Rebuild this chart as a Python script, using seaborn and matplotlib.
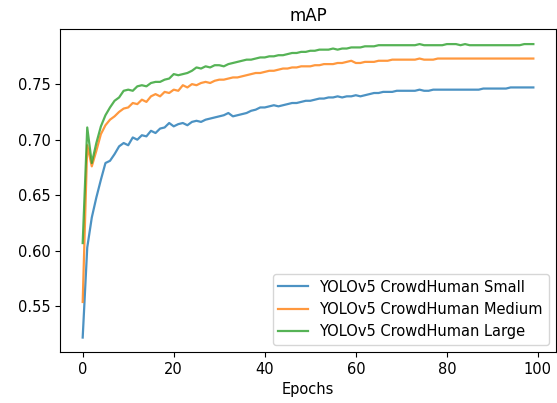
import pandas as pd
import matplotlib
matplotlib.use("Agg")
import matplotlib.pyplot as plt
import seaborn as sns
import numpy as np

# --- Data ---
epochs = list(range(100))

map_small = [
    0.522, 0.603, 0.630, 0.648, 0.664, 0.679, 0.681, 0.687, 0.694, 0.697,
    0.695, 0.702, 0.700, 0.704, 0.703, 0.708, 0.706, 0.710, 0.711, 0.715,
    0.712, 0.714, 0.715, 0.713, 0.716, 0.717, 0.716, 0.718, 0.719, 0.720,
    0.721, 0.722, 0.724, 0.721, 0.722, 0.723, 0.724, 0.726, 0.727, 0.729,
    0.729, 0.730, 0.731, 0.730, 0.731, 0.732, 0.733, 0.733, 0.734, 0.735,
    0.735, 0.736, 0.737, 0.737, 0.738, 0.738, 0.739, 0.738, 0.739, 0.739,
    0.740, 0.739, 0.740, 0.741, 0.742, 0.742, 0.743, 0.743, 0.743, 0.744,
    0.744, 0.744, 0.744, 0.744, 0.745, 0.744, 0.744, 0.745, 0.745, 0.745,
    0.745, 0.745, 0.745, 0.745, 0.745, 0.745, 0.745, 0.745, 0.746, 0.746,
    0.746, 0.746, 0.746, 0.746, 0.747, 0.747, 0.747, 0.747, 0.747, 0.747,
]

map_medium = [
    0.554, 0.695, 0.676, 0.690, 0.705, 0.713, 0.718, 0.721, 0.725, 0.728,
    0.729, 0.733, 0.732, 0.736, 0.734, 0.739, 0.741, 0.739, 0.743, 0.742,
    0.745, 0.744, 0.749, 0.747, 0.750, 0.749, 0.751, 0.752, 0.751, 0.753,
    0.754, 0.754, 0.755, 0.756, 0.756, 0.757, 0.758, 0.759, 0.760, 0.760,
    0.761, 0.762, 0.762, 0.763, 0.764, 0.764, 0.765, 0.765, 0.766, 0.766,
    0.766, 0.767, 0.767, 0.768, 0.768, 0.768, 0.769, 0.769, 0.770, 0.771,
    0.769, 0.769, 0.770, 0.770, 0.770, 0.771, 0.771, 0.771, 0.772, 0.772,
    0.772, 0.772, 0.772, 0.772, 0.773, 0.772, 0.772, 0.772, 0.773, 0.773,
    0.773, 0.773, 0.773, 0.773, 0.773, 0.773, 0.773, 0.773, 0.773, 0.773,
    0.773, 0.773, 0.773, 0.773, 0.773, 0.773, 0.773, 0.773, 0.773, 0.773,
]

map_large = [
    0.607, 0.711, 0.679, 0.697, 0.712, 0.722, 0.729, 0.735, 0.738, 0.744,
    0.745, 0.744, 0.748, 0.749, 0.748, 0.751, 0.752, 0.752, 0.754, 0.755,
    0.759, 0.758, 0.759, 0.760, 0.762, 0.765, 0.764, 0.766, 0.765, 0.767,
    0.767, 0.766, 0.768, 0.769, 0.770, 0.771, 0.772, 0.772, 0.773, 0.774,
    0.774, 0.775, 0.775, 0.776, 0.776, 0.777, 0.778, 0.778, 0.779, 0.779,
    0.780, 0.780, 0.781, 0.781, 0.781, 0.782, 0.781, 0.782, 0.782, 0.783,
    0.783, 0.783, 0.784, 0.784, 0.784, 0.785, 0.785, 0.785, 0.785, 0.785,
    0.785, 0.785, 0.785, 0.785, 0.786, 0.785, 0.785, 0.785, 0.785, 0.785,
    0.786, 0.786, 0.786, 0.785, 0.786, 0.785, 0.785, 0.785, 0.785, 0.785,
    0.785, 0.785, 0.785, 0.785, 0.785, 0.785, 0.785, 0.786, 0.786, 0.786,
]

labels = ["YOLOv5 CrowdHuman Small", "YOLOv5 CrowdHuman Medium", "YOLOv5 CrowdHuman Large"]

plt.style.use('default')

df = pd.concat([
    pd.DataFrame({"Epochs": epochs, "mAP": vals, "model": lab})
    for vals, lab in zip([map_small, map_medium, map_large], labels)
])

fig, ax = plt.subplots(figsize=(5.57, 4.03), dpi=100)
fig.subplots_adjust(left=0.108, right=0.998, top=0.927, bottom=0.126)

sns.lineplot(data=df, x="Epochs", y="mAP", hue="model", hue_order=labels,
             palette=["#1f77b4", "#ff7f0e", "#2ca02c"], linewidth=1.6,
             alpha=0.8, ax=ax)

ax.set_title("mAP", fontsize=12)
ax.set_ylabel("")
ax.set_xlabel("Epochs", fontsize=10.5)
ax.tick_params(labelsize=10.5)
ax.legend(loc="lower right", fontsize=10.5)

plt.savefig("out.png", dpi=100)
